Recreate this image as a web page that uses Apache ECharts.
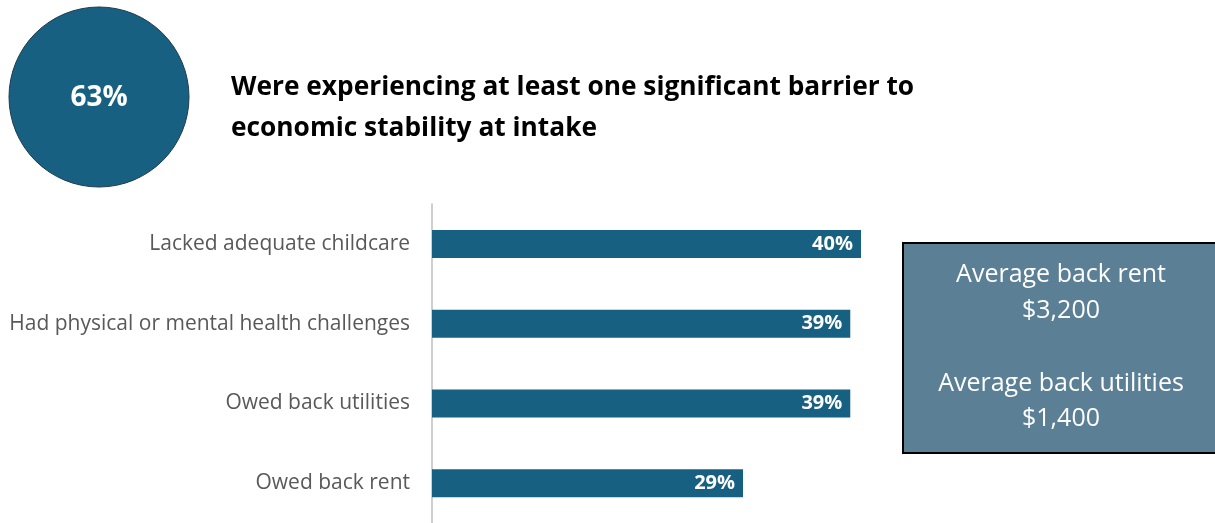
<!DOCTYPE html>
<html><head><meta charset="utf-8">
<script src="https://cdn.jsdelivr.net/npm/echarts@6/dist/echarts.min.js"></script>
<style>html,body{margin:0;padding:0;background:#fff}#c{width:1215px;height:523px}</style>
</head><body><div id="c"></div>
<script>
const categories = ['Lacked adequate childcare','Had physical or mental health challenges','Owed back utilities','Owed back rent'];
const values = [40, 39, 39, 29];
const headlineValue = '63%';
const headlineText = ['Were experiencing at least one significant barrier to','economic stability at intake'];
const boxLines = ['Average back rent','$3,200','','Average back utilities','$1,400'];

const FONT = 'Open Sans';
const chart = echarts.init(document.getElementById('c'), null, {renderer:'canvas'});
chart.setOption({
  animation:false,
  grid:{left:432, top:204, width:429, height:322, containLabel:false},
  xAxis:{type:'value', min:0, max:40, show:false},
  yAxis:{type:'category', data:categories, inverse:true,
    axisLine:{show:true, lineStyle:{color:'#bfbfbf', width:1.5}},
    axisTick:{show:false},
    axisLabel:{color:'#595959', fontFamily:FONT, fontSize:21, margin:22, padding:[4,0,0,0]}},
  series:[{type:'bar', data:values, barWidth:28,
    itemStyle:{color:'#186082'},
    label:{show:true, position:'insideRight', formatter:'{c}%', color:'#fff', fontFamily:FONT, fontWeight:'bold', fontSize:20, distance:8, padding:[3,0,0,0]}}],
  graphic:[
    {type:'circle', shape:{cx:99, cy:97, r:90}, style:{fill:'#186082', stroke:'#1f3b4d', lineWidth:1}},
    {type:'text', x:99, y:98, style:{text:headlineValue, fill:'#fff', font:'bold 28px "Open Sans"', align:'center', verticalAlign:'middle'}},
    {type:'text', x:231, y:88, style:{text:headlineText[0], fill:'#000', font:'bold 26.3px "Open Sans"', verticalAlign:'middle'}},
    {type:'text', x:231, y:129, style:{text:headlineText[1], fill:'#000', font:'bold 26.3px "Open Sans"', verticalAlign:'middle'}},
    {type:'rect', shape:{x:903, y:243, width:320, height:210}, style:{fill:'#5b7f95', stroke:'#000', lineWidth:2}},
    {type:'text', x:1061, y:275, style:{text:boxLines[0], fill:'#fff', font:'25px "Open Sans"', align:'center', verticalAlign:'middle'}},
    {type:'text', x:1061, y:311, style:{text:boxLines[1], fill:'#fff', font:'25px "Open Sans"', align:'center', verticalAlign:'middle'}},
    {type:'text', x:1061, y:384, style:{text:boxLines[3], fill:'#fff', font:'25px "Open Sans"', align:'center', verticalAlign:'middle'}},
    {type:'text', x:1061, y:419, style:{text:boxLines[4], fill:'#fff', font:'25px "Open Sans"', align:'center', verticalAlign:'middle'}}
  ]
});
</script></body></html>
